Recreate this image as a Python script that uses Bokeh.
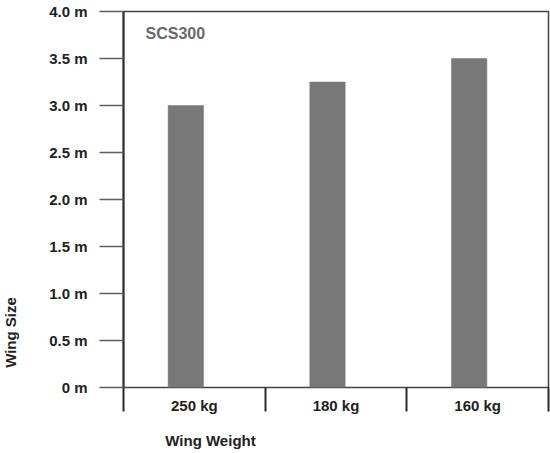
import math
from bokeh.plotting import figure
from bokeh.models import (Range1d, LinearAxis, FixedTicker, Label, ColumnDataSource)
from bokeh.embed import file_html
from bokeh.resources import INLINE

# ---- data ----
categories = ["250 kg", "180 kg", "160 kg"]
wing_size = [3.0, 3.25, 3.5]
y_ticks = [0.0, 0.5, 1.0, 1.5, 2.0, 2.5, 3.0, 3.5, 4.0]
y_tick_labels = ["0 m", "0.5 m", "1.0 m", "1.5 m", "2.0 m", "2.5 m", "3.0 m", "3.5 m", "4.0 m"]
series_name = "SCS300"
x_title = "Wing Weight"
y_title = "Wing Size"

FONT = "Liberation Sans"
DARK = "#2b2b2b"
GRID = "#5e5e5e"
TXT = "#222222"

n = len(categories)
centers = [i + 0.5 for i in range(n)]
bar_x = [c - 0.06 for c in centers]

p = figure(width=550, height=452, output_backend="svg", toolbar_location=None,
           x_range=Range1d(0, n), y_range=Range1d(0, 4),
           x_axis_type=None, y_axis_type=None,
           min_border_left=123, min_border_right=2, min_border_top=11, min_border_bottom=65)
p.background_fill_color = "white"
p.border_fill_color = "white"
p.outline_line_color = "#444444"
p.outline_line_width = 1.5

src = ColumnDataSource(dict(x=bar_x, top=wing_size, cat=categories))
p.vbar(x="x", top="top", bottom=0, width=0.25, source=src,
       fill_color="#787878", line_color="#787878", line_width=0.5)

# y axis with ticks / labels
yaxis = LinearAxis(ticker=FixedTicker(ticks=y_ticks))
yaxis.major_label_overrides = {t: l for t, l in zip(y_ticks, y_tick_labels)}
yaxis.major_tick_out = 24
yaxis.major_tick_in = 0
yaxis.major_tick_line_color = GRID
yaxis.major_tick_line_width = 1.5
yaxis.minor_tick_line_color = None
yaxis.axis_line_color = DARK
yaxis.axis_line_width = 2
yaxis.major_label_standoff = 12
yaxis.major_label_text_font = FONT
yaxis.major_label_text_font_style = "bold"
yaxis.major_label_text_font_size = "15px"
yaxis.major_label_text_color = TXT
p.add_layout(yaxis, "left")

# x axis: labels at category centres, separators at boundaries
xaxis = LinearAxis(ticker=FixedTicker(ticks=centers, minor_ticks=list(range(n + 1))))
xaxis.major_label_overrides = {c: l for c, l in zip(centers, categories)}
xaxis.major_tick_out = 0
xaxis.major_tick_in = 0
xaxis.major_tick_line_color = None
xaxis.minor_tick_out = 24
xaxis.minor_tick_in = 0
xaxis.minor_tick_line_color = DARK
xaxis.minor_tick_line_width = 2
xaxis.axis_line_color = None
xaxis.major_label_standoff = -15
xaxis.major_label_text_font = FONT
xaxis.major_label_text_font_style = "bold"
xaxis.major_label_text_font_size = "15px"
xaxis.major_label_text_color = TXT
p.add_layout(xaxis, "below")

# axis titles in the side panels
p.add_layout(Label(x=-19, y=55, x_units="screen", y_units="screen", text=y_title,
                   angle=math.pi / 2, text_align="center", text_baseline="middle",
                   text_font=FONT, text_font_style="bold", text_font_size="15px",
                   text_color=TXT), "left")
p.add_layout(Label(x=87, y=-7, x_units="screen", y_units="screen", text=x_title,
                   text_align="center", text_baseline="middle",
                   text_font=FONT, text_font_style="bold", text_font_size="15px",
                   text_color=TXT), "below")

# horizontal grid
p.ygrid.ticker = FixedTicker(ticks=y_ticks)
p.ygrid.grid_line_color = GRID
p.ygrid.grid_line_width = 1.5
p.xgrid.grid_line_color = None

p.add_layout(Label(x=22, y=354, x_units="screen", y_units="screen", text=series_name,
                   text_font=FONT, text_font_style="bold", text_font_size="16px",
                   text_color="#6a6a6a", text_baseline="middle", text_align="left"))

open("out.html", "w").write(file_html(p, INLINE))
